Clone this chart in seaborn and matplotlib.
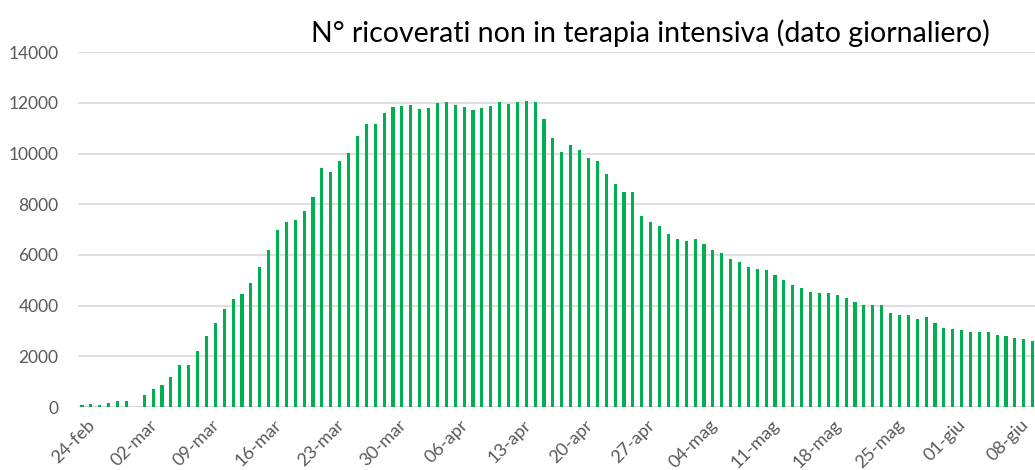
import matplotlib
matplotlib.use("Agg")
import matplotlib.pyplot as plt
import matplotlib.transforms as mtransforms
import seaborn as sns
import pandas as pd

# daily values, 24-feb .. 10-giu (01-mar has no bar)
feb = [76, 100, 79, 170, 250, 256]
mar = [0, 486, 723, 880, 1183, 1643, 1670, 2222, 2813, 3326, 3852, 4259, 4443,
       4903, 5508, 6179, 6967, 7296, 7388, 7743, 8269, 9439, 9281, 9715, 10030,
       10688, 11148, 11161, 11608, 11818, 11884]
apr = [11923, 11765, 11805, 12002, 12015, 11910, 11831, 11713, 11792, 11870,
       12028, 11963, 12028, 12081, 12042, 11371, 10622, 10043, 10333, 10135,
       9807, 9688, 9202, 8795, 8479, 8479, 7519, 7283, 7125, 6823]
mag = [6625, 6533, 6625, 6428, 6205, 6087, 5850, 5705, 5534, 5429, 5403, 5219,
       5008, 4811, 4706, 4522, 4483, 4483, 4417, 4286, 4128, 4036, 4036, 4023,
       3707, 3628, 3628, 3470, 3549, 3312, 3129]
giu = [3089, 3024, 2971, 2971, 2971, 2839, 2800, 2721, 2669, 2590]

months = [("feb", 24, feb), ("mar", 1, mar), ("apr", 1, apr),
          ("mag", 1, mag), ("giu", 1, giu)]
dates = []
values = []
for name, start, vals in months:
    for i, v in enumerate(vals):
        dates.append(f"{start + i:02d}-{name}")
        values.append(v)

df = pd.DataFrame({"data": dates, "ricoverati": values})

sns.set_style("white")
plt.rcParams["font.family"] = ["Lato", "DejaVu Sans"]

fig = plt.figure(figsize=(10.35, 4.7), dpi=100)
ax = fig.add_axes([0.0754, 0.134, 0.9246, 0.755])

sns.barplot(data=df, x="data", y="ricoverati", color="#00B050",
            width=0.35, saturation=1, linewidth=0, ax=ax)
for p in ax.patches:
    p.set_antialiased(False)

ax.set_ylim(0, 14000)
ax.set_yticks(range(0, 14001, 2000))
ax.set_xlim(-0.45, len(dates) - 1 + 0.26)
ax.set_axisbelow(True)
ax.grid(axis="y", color="#d9d9d9", linewidth=1.2)
ax.axhline(0, color="#d9d9d9", linewidth=2, zorder=0)
for s in ax.spines.values():
    s.set_visible(False)

ticks = list(range(0, len(dates), 7))
ax.set_xticks(ticks)
ax.set_xticklabels([dates[i] for i in ticks], rotation=45, ha="right",
                   rotation_mode="anchor")
ax.tick_params(axis="both", length=0, colors="#595959")
ax.tick_params(axis="y", pad=14, labelsize=12.5)
ax.tick_params(axis="x", pad=7, labelsize=13)
shift = mtransforms.ScaledTranslation(5 / 100, 0, fig.dpi_scale_trans)
for lab in ax.get_xticklabels():
    lab.set_transform(lab.get_transform() + shift)
ax.set_xlabel("")
ax.set_ylabel("")

fig.text(0.628, 0.93, "N° ricoverati non in terapia intensiva (dato giornaliero)",
         ha="center", va="center", fontsize=20.5, color="#000000")

fig.savefig("out.png", dpi=100)
